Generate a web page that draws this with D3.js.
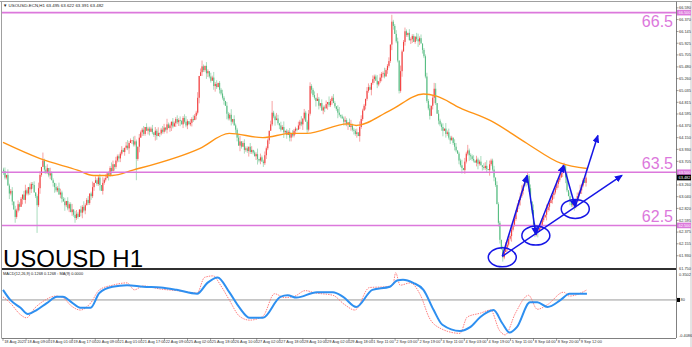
<!DOCTYPE html>
<html>
<head>
<meta charset="utf-8">
<script src="https://cdn.jsdelivr.net/npm/d3@7"></script>
<style>
  body { margin: 0; background: #fff; }
  text { font-family: "Liberation Sans", Arial, sans-serif; }
</style>
</head>
<body>
<script>

// ---- data ----
// hourly closes, one per bar
const closes = [
  63.52,63.40,63.45,63.25,63.10,63.15,62.95,62.80,62.66,62.78,
  62.90,62.85,63.00,63.08,62.98,63.16,63.10,63.22,63.18,63.28,
  63.26,63.12,63.05,62.88,63.20,63.45,63.60,63.72,63.55,63.50,
  63.58,63.44,63.48,63.35,63.30,63.22,63.16,63.20,63.08,63.12,
  63.00,62.95,62.88,62.96,62.82,62.90,62.75,62.80,62.70,62.64,
  62.72,62.66,62.80,62.74,62.85,62.78,62.88,62.98,62.92,63.10,
  63.05,63.22,63.30,63.35,63.28,63.40,63.26,63.15,63.30,63.36,
  63.39,63.48,63.45,63.58,63.52,63.65,63.60,63.72,63.80,63.76,
  63.85,63.92,63.88,63.96,64.00,63.95,64.05,64.10,64.10,64.02,
  64.08,63.75,63.98,64.15,64.25,64.30,64.22,64.35,64.28,64.32,
  64.26,64.32,64.25,64.20,64.28,64.18,64.24,64.23,64.30,64.26,
  64.34,64.30,64.40,64.33,64.38,64.45,64.36,64.42,64.50,64.44,
  64.48,64.47,64.40,64.52,64.45,64.38,64.46,64.40,64.43,64.50,
  64.48,64.56,64.62,64.90,65.31,65.38,65.49,65.42,65.50,65.36,
  65.40,65.30,65.22,65.28,65.12,65.16,65.10,65.18,65.05,64.98,
  64.90,64.84,64.75,64.60,64.51,64.58,64.45,64.50,64.38,64.30,
  64.15,64.00,64.08,63.98,64.05,63.92,63.95,63.90,63.98,63.88,
  63.92,63.87,63.80,63.84,63.75,63.72,63.78,63.70,63.67,63.82,
  63.95,64.10,64.28,64.40,64.62,64.55,64.48,64.51,64.42,64.38,
  64.30,64.35,64.25,64.28,64.20,64.26,64.15,64.22,64.19,64.28,
  64.32,64.30,64.38,64.45,64.40,64.51,64.62,64.45,64.30,64.60,
  65.12,65.05,64.95,64.90,64.84,64.88,64.75,64.80,64.66,64.72,
  64.70,64.78,64.82,64.76,64.84,64.90,64.80,64.74,64.69,64.62,
  64.58,64.55,64.51,64.45,64.48,64.40,64.44,64.35,64.38,64.30,
  64.28,64.22,64.25,64.18,64.35,64.50,64.66,64.75,64.88,65.03,
  65.10,65.05,65.18,65.25,65.30,65.22,65.15,65.21,65.28,65.35,
  65.36,65.30,65.42,65.50,65.59,65.90,66.33,66.25,66.10,65.96,
  65.60,65.03,65.40,65.77,65.95,66.15,66.08,66.12,65.98,66.00,
  66.06,65.95,66.05,66.00,65.96,66.02,65.92,65.80,65.68,65.30,
  64.84,64.70,64.56,64.75,64.90,65.07,64.80,64.60,64.47,64.40,
  64.35,64.28,64.32,64.22,64.25,64.15,64.10,64.15,64.05,63.98,
  63.91,63.85,63.72,63.63,63.58,63.54,63.70,63.85,63.91,63.82,
  63.80,63.75,63.72,63.68,63.74,63.66,63.70,63.63,63.60,63.58,
  63.62,63.56,63.54,63.65,63.72,63.55,63.40,63.26,62.90,62.55,
  62.23,62.05,61.90,62.00,62.08,62.14,62.25,62.30,62.42,62.51,
  62.62,62.75,62.88,62.98,63.05,63.15,63.25,63.35,63.30,63.43,
  63.20,62.95,62.79,62.50,62.33,62.40,62.38,62.45,62.51,62.60,
  62.65,62.70,62.79,62.85,62.92,62.98,63.07,63.12,63.20,63.28,
  63.35,63.40,63.48,63.52,63.61,63.40,63.16,63.05,62.95,62.88,
  62.92,62.85,62.98,63.05,63.10,63.16,63.25,63.35,63.30,63.40
];

// wick lengths per bar, one digit per bar, in steps of 0.035
const upWicks = ("1203112021 2110231021 1201320112 2031102132 1120211302 2102131120 1302112031 2011320211 " +
  "1210231102 3102112021 1120213012 2031102112 1201231021 2113021102 1021312011 2102113021 " +
  "1230121102 2011302112 1102211320 2130112021 1021302112 2112031021 1203112102 3011210231 " +
  "1120321102 2102113021 1311202112 2031121021 1102312011 2120113021 1203121102 2011302131 " +
  "1120211302 2302112021 1021320112 2110231021 1203112021 2031120112 1120213021 2102131102").replace(/ /g, "");
const downWicks = ("2110312021 1203021132 2012131021 1120231102 2031120213 1102312011 2120113021 1031202112 " +
  "2102113021 1213021102 2011320211 1120231021 2302112012 1021302113 2110231021 1203112102 " +
  "2031021131 1102312021 2120113012 1031202211 2102131021 1211302102 2031120113 1102213021 " +
  "2120311021 1031202112 2102113201 1213021102 2011320211 1120231021 2302112012 1021302113 " +
  "2110231021 1203112102 2031021131 1102312021 2120113012 1031202211 2102131021 1211302102").replace(/ /g, "");

// long shadows [bar, price]
const longHighs = [[27, 63.87], [136, 65.60], [184, 64.84], [266, 66.46], [295, 65.18], [359, 63.50], [384, 63.68]];
const longLows = [[8, 62.55], [23, 62.36], [49, 62.55], [91, 63.35], [178, 63.60], [271, 64.98], [342, 61.82], [364, 62.28], [392, 62.82]];

// orange moving average, sampled [bar] -> price
const maBars = [0, 25, 51, 62, 75, 89, 135, 155, 178, 197, 208, 236, 242, 265, 288, 297, 313, 334, 359, 382, 400];
const maVals = [64.06, 63.76, 63.54, 63.44, 63.44, 63.54, 63.95, 64.23, 64.15, 64.23, 64.23, 64.41, 64.38, 64.66, 64.97, 64.93, 64.71, 64.47, 64.04, 63.67, 63.57];

// lower pane: blue main line and red signal line, sampled
const oscBars = [0, 5, 12, 17, 23, 30, 37, 41, 47, 53, 60, 66, 75, 85, 96, 108, 119, 133, 140, 147, 155, 162, 169, 178, 190, 195, 201, 215, 226, 233, 242, 253, 265, 270, 274, 281, 288, 295, 301, 313, 320, 327, 336, 342, 347, 352, 361, 366, 373, 382, 388, 400];
const oscVals = [0.13, 0.0, -0.10, -0.18, -0.13, -0.04, 0.04, 0.04, -0.03, -0.10, -0.10, 0.09, 0.17, 0.19, 0.17, 0.16, 0.13, 0.08, 0.22, 0.29, 0.10, -0.10, -0.23, -0.23, 0.04, 0.06, 0.03, 0.10, 0.10, 0.04, -0.09, 0.13, 0.17, 0.25, 0.26, 0.22, 0.13, -0.13, -0.32, -0.40, -0.35, -0.22, -0.13, -0.30, -0.42, -0.35, -0.03, -0.03, -0.09, 0.0, 0.08, 0.08];
const sigBars = [0, 5, 12, 16, 22, 29, 36, 41, 47, 53, 60, 66, 75, 85, 90, 96, 108, 119, 133, 138, 144, 149, 155, 162, 169, 178, 186, 193, 200, 207, 214, 226, 234, 241, 251, 262, 267, 269, 272, 279, 286, 292, 299, 313, 318, 327, 334, 340, 344, 351, 360, 366, 373, 384, 388, 400];
const sigVals = [0.04, -0.04, -0.19, -0.23, -0.10, 0.0, 0.05, 0.03, -0.08, -0.13, -0.04, 0.13, 0.19, 0.22, 0.13, 0.18, 0.14, 0.12, 0.09, 0.29, 0.31, 0.19, 0.0, -0.21, -0.26, -0.21, 0.08, 0.03, 0.05, 0.12, 0.09, 0.06, -0.06, -0.13, 0.16, 0.17, 0.19, 0.35, 0.19, 0.22, 0.06, -0.23, -0.36, -0.43, -0.22, -0.17, -0.13, -0.39, -0.45, -0.17, 0.06, -0.12, -0.06, 0.10, 0.05, 0.13];

const levels = [66.5, 63.5, 62.5];
const levelNames = ["66.5", "63.5", "62.5"];

const priceTicks = ["66.590", "66.370", "66.145", "65.925", "65.705", "65.480", "65.260", "65.035", "64.815",
  "64.595", "64.370", "64.150", "63.930", "63.705", "63.260", "63.040", "62.820", "62.595",
  "62.375", "62.155", "61.930"];

const dateLabels = ["18 Aug 2025", "18 Aug 09:00", "19 Aug 01:00", "19 Aug 17:00", "20 Aug 09:00", "21 Aug 01:00",
  "21 Aug 17:00", "22 Aug 09:00", "25 Aug 02:00", "25 Aug 18:00", "26 Aug 10:00", "27 Aug 02:00",
  "27 Aug 18:00", "28 Aug 10:00", "29 Aug 02:00", "29 Aug 18:00", "1 Sep 11:00", "2 Sep 03:00",
  "2 Sep 19:00", "3 Sep 11:00", "4 Sep 03:00", "4 Sep 19:00", "5 Sep 11:00", "8 Sep 04:00",
  "8 Sep 20:00", "9 Sep 12:00"];

// hand drawn analysis in blue, [bar, price]
const zigzag = [[342, 61.92], [359, 63.44], [365, 62.33], [384, 63.63], [392, 62.85], [407.5, 64.19]];
const trendLine = [[342, 61.92], [424, 63.44]];
const circles = [[342, 61.90], [365, 62.31], [392, 62.81]];

// ---- layout ----
const width = 692, height = 347;
const axisX = 676;
const mainPane = {top: 3.6, bottom: 268};
const subPane = {top: 272, bottom: 338};
const tinyFont = "3.9px";

const svg = d3.select("body").append("svg")
  .attr("width", width)
  .attr("height", height);

const x = d3.scaleLinear().domain([0, 461]).range([3, axisX]);
const y = d3.scaleLinear().domain([61.70, 66.67]).range([mainPane.bottom, mainPane.top]);
const yo = d3.scaleLinear().domain([-0.49, 0.36]).range([subPane.bottom, subPane.top]);

// build candles
const candles = closes.map((c, i) => {
  const o = i === 0 ? c + 0.03 : closes[i - 1];
  return {
    i: i, o: o, c: c,
    h: Math.max(o, c) + (+upWicks[i]) * 0.035,
    l: Math.min(o, c) - (+downWicks[i]) * 0.035
  };
});
longHighs.forEach(([i, p]) => { candles[i].h = p; });
longLows.forEach(([i, p]) => { candles[i].l = p; });

svg.append("clipPath").attr("id", "mainclip")
  .append("rect").attr("x", 2).attr("y", 2).attr("width", axisX - 2).attr("height", mainPane.bottom - 2);

// frame
svg.append("line").attr("x1", 0).attr("x2", width).attr("y1", 1.5).attr("y2", 1.5)
  .attr("stroke", "#a0a0a0").attr("stroke-width", 1);
svg.append("line").attr("x1", 1.5).attr("x2", 1.5).attr("y1", 1.5).attr("y2", subPane.bottom)
  .attr("stroke", "#a0a0a0");
svg.append("line").attr("x1", axisX + 0.5).attr("x2", axisX + 0.5).attr("y1", 1.5).attr("y2", subPane.bottom)
  .attr("stroke", "#808080");
svg.append("line").attr("x1", 1.5).attr("x2", axisX).attr("y1", subPane.bottom + 0.5).attr("y2", subPane.bottom + 0.5)
  .attr("stroke", "#808080");
svg.append("line").attr("x1", width - 1).attr("x2", width - 1).attr("y1", 1.5).attr("y2", height)
  .attr("stroke", "#c8c8c8");

const plot = svg.append("g").attr("clip-path", "url(#mainclip)");

// candles
const bars = plot.selectAll("g.candle")
  .data(candles)
  .enter()
  .append("g")
  .attr("class", "candle");

bars.append("line")
  .attr("x1", d => x(d.i) + 0.5)
  .attr("x2", d => x(d.i) + 0.5)
  .attr("y1", d => y(d.h))
  .attr("y2", d => y(d.l))
  .attr("stroke", d => d.c >= d.o ? "#f7a3a3" : "#a9dcbd")
  .attr("stroke-width", 1);

bars.append("rect")
  .attr("x", d => x(d.i))
  .attr("width", 1.1)
  .attr("y", d => y(Math.max(d.o, d.c)))
  .attr("height", d => Math.max(0.8, Math.abs(y(d.o) - y(d.c))))
  .attr("fill", d => d.c >= d.o ? "#f23f3f" : "#59be84");

// moving average
const maLine = d3.line()
  .x(d => x(d[0]))
  .y(d => y(d[1]))
  .curve(d3.curveMonotoneX);

plot.append("path")
  .datum(maBars.map((b, k) => [b, maVals[k]]))
  .attr("d", maLine)
  .attr("fill", "none")
  .attr("stroke", "#ff9416")
  .attr("stroke-width", 1.4);

// horizontal levels
levels.forEach((lv, k) => {
  svg.append("line")
    .attr("x1", 2).attr("x2", axisX)
    .attr("y1", y(lv)).attr("y2", y(lv))
    .attr("stroke", "#dc78dc")
    .attr("stroke-width", 1.6);
  svg.append("text")
    .attr("x", axisX - 3)
    .attr("y", y(lv) + (k === 0 ? 14 : -3))
    .attr("text-anchor", "end")
    .style("font-size", "16px")
    .attr("fill", "#dc78dc")
    .text(levelNames[k]);
});

// blue analysis drawing
const defs = svg.append("defs");
defs.append("marker")
  .attr("id", "arrow")
  .attr("markerUnits", "userSpaceOnUse")
  .attr("markerWidth", 8).attr("markerHeight", 7)
  .attr("refX", 7).attr("refY", 3.5)
  .attr("orient", "auto")
  .append("path").attr("d", "M0,0 L8,3.5 L0,7 Z").attr("fill", "#1515e6");

for (let k = 0; k < zigzag.length - 1; k++) {
  svg.append("line")
    .attr("x1", x(zigzag[k][0])).attr("y1", y(zigzag[k][1]))
    .attr("x2", x(zigzag[k + 1][0])).attr("y2", y(zigzag[k + 1][1]))
    .attr("stroke", "#1515e6").attr("stroke-width", 1.5)
    .attr("marker-end", "url(#arrow)");
}
svg.append("line")
  .attr("x1", x(trendLine[0][0])).attr("y1", y(trendLine[0][1]))
  .attr("x2", x(trendLine[1][0])).attr("y2", y(trendLine[1][1]))
  .attr("stroke", "#1515e6").attr("stroke-width", 1.5)
  .attr("marker-end", "url(#arrow)");

svg.selectAll("ellipse.ring")
  .data(circles)
  .enter()
  .append("ellipse")
  .attr("class", "ring")
  .attr("cx", d => x(d[0]))
  .attr("cy", d => y(d[1]))
  .attr("rx", 14).attr("ry", 9.5)
  .attr("fill", "none")
  .attr("stroke", "#1515e6")
  .attr("stroke-width", 1.5);

// title texts
svg.append("text")
  .attr("x", 3).attr("y", 267)
  .style("font-size", "24px")
  .attr("fill", "#000")
  .text("USOUSD H1");

svg.append("text")
  .attr("x", 3).attr("y", 6.5)
  .style("font-size", "4.4px")
  .attr("fill", "#222")
  .text("\u25BC USOUSD-ECN,H1  63.495 63.622 63.391 63.482");

// price axis
const tickG = svg.append("g");
priceTicks.forEach(t => {
  tickG.append("line")
    .attr("x1", axisX).attr("x2", axisX + 2.5)
    .attr("y1", y(+t)).attr("y2", y(+t))
    .attr("stroke", "#666").attr("stroke-width", 0.6);
  tickG.append("text")
    .attr("x", axisX + 3).attr("y", y(+t) + 1.4)
    .style("font-size", tinyFont)
    .attr("fill", "#333")
    .text(t);
});
tickG.append("text")
  .attr("x", axisX + 3).attr("y", mainPane.bottom + 1.5)
  .style("font-size", tinyFont).attr("fill", "#333").text("61.750");

levels.forEach(lv => {
  tickG.append("rect")
    .attr("x", axisX + 1).attr("y", y(lv) - 2.8)
    .attr("width", 14).attr("height", 5.6)
    .attr("fill", "#dc78dc");
  tickG.append("text")
    .attr("x", axisX + 2.5).attr("y", y(lv) + 1.4)
    .style("font-size", tinyFont).attr("fill", "#fff")
    .text(lv.toFixed(3));
});
const last = closes[closes.length - 1];
tickG.append("rect")
  .attr("x", axisX + 1).attr("y", y(last) - 2.8)
  .attr("width", 14).attr("height", 5.6)
  .attr("fill", "#000");
tickG.append("text")
  .attr("x", axisX + 2.5).attr("y", y(last) + 1.4)
  .style("font-size", tinyFont).attr("fill", "#fff")
  .text("63.482");

// separator between panes
svg.append("line")
  .attr("x1", 2).attr("x2", axisX)
  .attr("y1", mainPane.bottom + 1).attr("y2", mainPane.bottom + 1)
  .attr("stroke", "#303030").attr("stroke-width", 2);

// lower pane
svg.append("line")
  .attr("x1", 2).attr("x2", axisX)
  .attr("y1", yo(0)).attr("y2", yo(0))
  .attr("stroke", "#9a9a9a").attr("stroke-width", 1);

const oscLine = d3.line()
  .x(d => x(d[0]))
  .y(d => yo(d[1]))
  .curve(d3.curveMonotoneX);

svg.append("path")
  .datum(sigBars.map((b, k) => [b, sigVals[k]]))
  .attr("d", oscLine)
  .attr("fill", "none")
  .attr("stroke", "#ff6f6f")
  .attr("stroke-width", 0.9)
  .attr("stroke-dasharray", "1.5,1");

svg.append("path")
  .datum(oscBars.map((b, k) => [b, oscVals[k]]))
  .attr("d", oscLine)
  .attr("fill", "none")
  .attr("stroke", "#2e8ff0")
  .attr("stroke-width", 2);

svg.append("text")
  .attr("x", 3).attr("y", subPane.top + 2.5)
  .style("font-size", tinyFont).attr("fill", "#222")
  .text("MACD(12,26,9) 0.1268 0.1268     \u25e6 MA(9) 0.0000");

svg.append("text")
  .attr("x", axisX + 3).attr("y", subPane.top + 3.5)
  .style("font-size", tinyFont).attr("fill", "#333").text("0.3502");
svg.append("text")
  .attr("x", axisX + 3).attr("y", subPane.bottom - 1)
  .style("font-size", tinyFont).attr("fill", "#333").text("-0.4086");
svg.append("rect")
  .attr("x", axisX + 1).attr("y", yo(0) - 2)
  .attr("width", 3).attr("height", 4).attr("fill", "#000");
svg.append("text")
  .attr("x", axisX + 4.5).attr("y", yo(0) + 1.4)
  .style("font-size", tinyFont).attr("fill", "#333").text("80");

// time axis, a label every 16 bars
const labelStep = 15.8;
dateLabels.forEach((t, k) => {
  const xx = x(k * labelStep);
  svg.append("line")
    .attr("x1", xx).attr("x2", xx)
    .attr("y1", subPane.bottom).attr("y2", subPane.bottom + 3)
    .attr("stroke", "#666").attr("stroke-width", 0.6);
  svg.append("text")
    .attr("x", xx + 1.2).attr("y", subPane.bottom + 5.2)
    .style("font-size", tinyFont).attr("fill", "#333")
    .text(t);
});

</script>
</body>
</html>
